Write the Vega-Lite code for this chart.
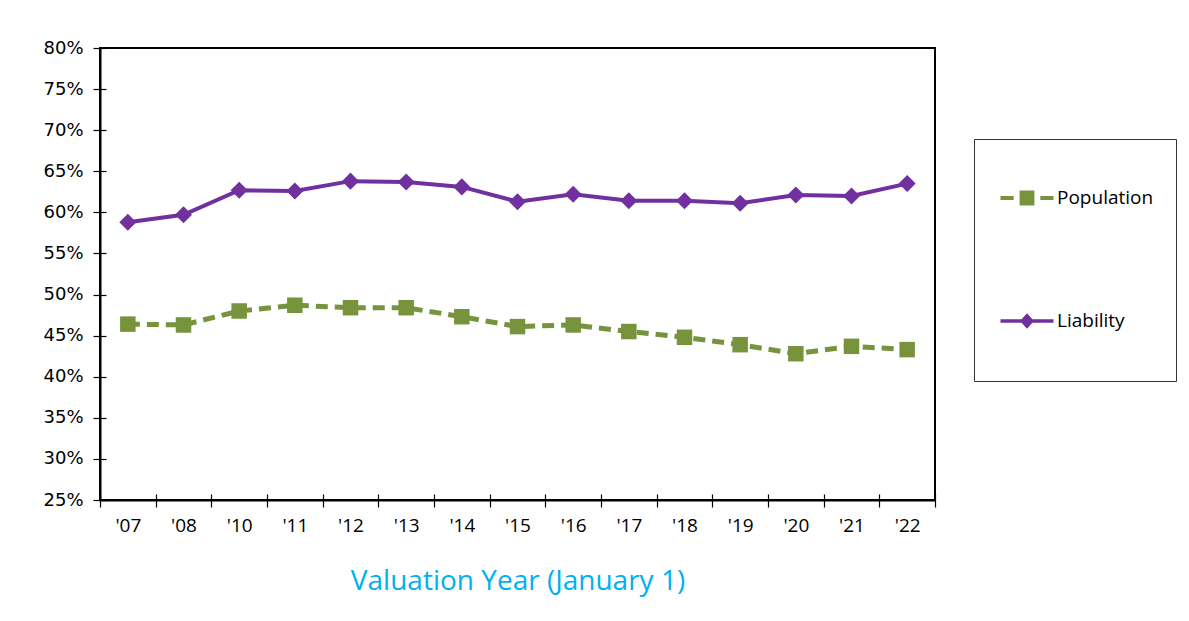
{
  "$schema": "https://vega.github.io/schema/vega-lite/v6.json",
  "autosize": "none",
  "width": 835,
  "height": 452,
  "padding": {"left": 100, "top": 48, "right": 254, "bottom": 121},
  "background": "white",
  "config": {
    "view": {"stroke": "black", "strokeWidth": 2},
    "axis": {"grid": false, "domainColor": "black", "domainWidth": 2, "tickColor": "black", "tickWidth": 1.2, "labelColor": "black"}
  },
  "data": {
    "values": [
      {"year": "'07", "series": "Liability", "value": 0.588},
      {"year": "'08", "series": "Liability", "value": 0.597},
      {"year": "'10", "series": "Liability", "value": 0.627},
      {"year": "'11", "series": "Liability", "value": 0.626},
      {"year": "'12", "series": "Liability", "value": 0.638},
      {"year": "'13", "series": "Liability", "value": 0.637},
      {"year": "'14", "series": "Liability", "value": 0.631},
      {"year": "'15", "series": "Liability", "value": 0.613},
      {"year": "'16", "series": "Liability", "value": 0.622},
      {"year": "'17", "series": "Liability", "value": 0.614},
      {"year": "'18", "series": "Liability", "value": 0.614},
      {"year": "'19", "series": "Liability", "value": 0.611},
      {"year": "'20", "series": "Liability", "value": 0.621},
      {"year": "'21", "series": "Liability", "value": 0.620},
      {"year": "'22", "series": "Liability", "value": 0.635},
      {"year": "'07", "series": "Population", "value": 0.464},
      {"year": "'08", "series": "Population", "value": 0.463},
      {"year": "'10", "series": "Population", "value": 0.480},
      {"year": "'11", "series": "Population", "value": 0.487},
      {"year": "'12", "series": "Population", "value": 0.484},
      {"year": "'13", "series": "Population", "value": 0.484},
      {"year": "'14", "series": "Population", "value": 0.473},
      {"year": "'15", "series": "Population", "value": 0.461},
      {"year": "'16", "series": "Population", "value": 0.463},
      {"year": "'17", "series": "Population", "value": 0.455},
      {"year": "'18", "series": "Population", "value": 0.448},
      {"year": "'19", "series": "Population", "value": 0.439},
      {"year": "'20", "series": "Population", "value": 0.428},
      {"year": "'21", "series": "Population", "value": 0.437},
      {"year": "'22", "series": "Population", "value": 0.433}
    ]
  },
  "resolve": {"axis": {"x": "independent", "y": "independent"}},
  "layer": [
    {
      "transform": [{"filter": "datum.series === 'Liability'"}],
      "mark": {"type": "line", "strokeWidth": 4},
      "encoding": {
        "x": {
          "field": "year", "type": "ordinal", "sort": null, "bandPosition": 0.5,
          "scale": {"type": "band", "paddingInner": 0, "paddingOuter": 0},
          "axis": {
            "orient": "bottom", "tickBand": "extent", "tickSize": 7, "labelPadding": 9,
            "labelFont": "Open Sans", "labelFontSize": 19, "labelAngle": 0,
            "title": "Valuation Year (January 1)", "titleFont": "Open Sans", "titleFontSize": 28,
            "titleFontWeight": "normal", "titleColor": "#00B0F0", "titlePadding": 32
          }
        },
        "y": {
          "field": "value", "type": "quantitative",
          "scale": {"domain": [0.25, 0.8], "nice": false, "zero": false},
          "axis": {
            "orient": "left", "values": [0.25, 0.3, 0.35, 0.4, 0.45, 0.5, 0.55, 0.6, 0.65, 0.7, 0.75, 0.8],
            "format": ".0%", "tickSize": 7, "labelPadding": 10, "labelFont": "DejaVu Sans", "labelFontSize": 18,
            "title": null
          }
        },
        "color": {
          "field": "series", "type": "nominal",
          "scale": {"domain": ["Population", "Liability"], "range": ["#77933C", "#7030A0"]},
          "legend": {
            "title": " ", "titleOrient": "bottom", "titleFontSize": 18, "titlePadding": 10, "titleColor": "white",
            "orient": "none", "legendX": 874, "legendY": 91,
            "direction": "vertical",
            "fillColor": "white", "strokeColor": "#333333", "padding": 22,
            "symbolSize": 5476, "rowPadding": 76, "labelOffset": -7, "symbolOffset": -6,
            "symbolStrokeWidth": 0, "symbolDash": [1, 0],
            "labelFont": "Open Sans", "labelFontSize": 19, "labelColor": "black",
            "encode": {
              "symbols": {
                "update": {
                  "shape": {"signal": "datum.value === 'Population' ? 'M-0.716,-0.054 L-0.36,-0.054 L-0.36,0.054 L-0.716,0.054 Z M-0.2,-0.2 L0.2,-0.2 L0.2,0.2 L-0.2,0.2 Z M0.36,-0.054 L0.716,-0.054 L0.716,0.054 L0.36,0.054 Z' : 'M-0.716,-0.047 L0.716,-0.047 L0.716,0.047 L-0.716,0.047 Z M0,-0.21 L0.19,0 L0,0.21 L-0.19,0 Z'"},
                  "fill": {"scale": "color", "field": "value"},
                  "stroke": {"value": "transparent"},
                  "strokeWidth": {"value": 0},
                  "opacity": {"value": 1}
                }
              }
            }
          }
        }
      }
    },
    {
      "transform": [{"filter": "datum.series === 'Population'"}],
      "mark": {"type": "line", "strokeWidth": 5, "strokeDash": [12, 7]},
      "encoding": {
        "x": {"field": "year", "type": "ordinal", "sort": null, "bandPosition": 0.5, "axis": null},
        "y": {"field": "value", "type": "quantitative", "axis": null},
        "color": {"field": "series", "type": "nominal"}
      }
    },
    {
      "transform": [{"filter": "datum.series === 'Population'"}],
      "mark": {"type": "point", "filled": true, "opacity": 1, "size": 240, "shape": "square"},
      "encoding": {
        "x": {
          "field": "year", "type": "ordinal", "sort": null, "bandPosition": 0.5,
          "axis": {"orient": "bottom", "tickBand": "extent", "tickSize": -6, "labels": false, "domain": false, "title": null}
        },
        "y": {
          "field": "value", "type": "quantitative",
          "axis": {"orient": "left", "values": [0.25, 0.3, 0.35, 0.4, 0.45, 0.5, 0.55, 0.6, 0.65, 0.7, 0.75, 0.8], "tickSize": -6, "labels": false, "domain": false, "title": null}
        },
        "color": {"field": "series", "type": "nominal"}
      }
    },
    {
      "transform": [{"filter": "datum.series === 'Liability'"}],
      "mark": {"type": "point", "filled": true, "opacity": 1, "size": 290, "shape": "diamond"},
      "encoding": {
        "x": {"field": "year", "type": "ordinal", "sort": null, "bandPosition": 0.5, "axis": null},
        "y": {"field": "value", "type": "quantitative", "axis": null},
        "color": {"field": "series", "type": "nominal"}
      }
    }
  ]
}
